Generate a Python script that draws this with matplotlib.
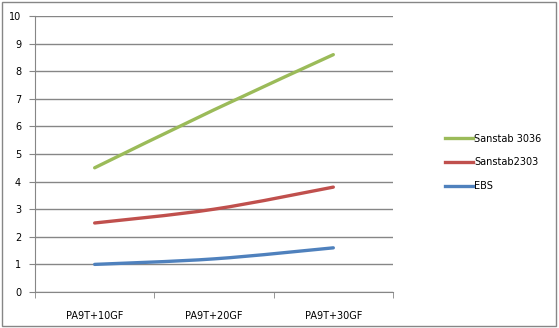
import matplotlib.pyplot as plt
from matplotlib.path import Path
from matplotlib.patches import PathPatch, Rectangle
from matplotlib.lines import Line2D

# Data
categories = ['PA9T+10GF', 'PA9T+20GF', 'PA9T+30GF']
sanstab_3036 = [4.5, 6.6, 8.6]
sanstab_2303 = [2.5, 3.0, 3.8]
ebs = [1.0, 1.2, 1.6]

series = [('Sanstab 3036', sanstab_3036, '#9BBB59'),
          ('Sanstab2303', sanstab_2303, '#C0504D'),
          ('EBS', ebs, '#4F81BD')]

grid_col = '#868686'

fig = plt.figure(figsize=(5.59, 3.28), dpi=100)
ax = fig.add_axes([0.0626, 0.1098, 0.6404, 0.8414])


def smooth_path(xs, ys):
    # Bezier curve through the points, like Excel's smoothed line
    pts = list(zip(xs, ys))
    ext = [pts[0]] + pts + [pts[-1]]
    verts = [pts[0]]
    codes = [Path.MOVETO]
    for i in range(len(pts) - 1):
        p0, p1, p2, p3 = ext[i], ext[i + 1], ext[i + 2], ext[i + 3]
        c1 = (p1[0] + (p2[0] - p0[0]) / 6, p1[1] + (p2[1] - p0[1]) / 6)
        c2 = (p2[0] - (p3[0] - p1[0]) / 6, p2[1] - (p3[1] - p1[1]) / 6)
        verts += [c1, c2, p2]
        codes += [Path.CURVE4] * 3
    return Path(verts, codes)


handles = []
for name, vals, col in series:
    x = range(len(vals))
    patch = PathPatch(smooth_path(x, vals), facecolor='none', edgecolor=col,
                      lw=2.4, capstyle='round', zorder=3)
    ax.add_patch(patch)
    handles.append(Line2D([], [], color=col, lw=2.4, label=name))

ax.set_xlim(-0.5, 2.5)
ax.set_ylim(0, 10)
ax.set_yticks(range(0, 11))
ax.set_xticks(range(len(categories)))
ax.set_xticklabels(categories)
ax.set_xticks([-0.5, 0.5, 1.5, 2.5], minor=True)
ax.tick_params(axis='x', which='major', length=0, pad=14, labelsize=7)
ax.tick_params(axis='x', which='minor', length=4, color=grid_col)
ax.tick_params(axis='y', length=4, color=grid_col, labelsize=7, pad=6)
ax.yaxis.grid(True, color=grid_col, lw=1)
ax.set_axisbelow(True)
for s in ['top', 'right']:
    ax.spines[s].set_visible(False)
for s in ['left', 'bottom']:
    ax.spines[s].set_color(grid_col)

fig.legend(handles=handles, loc='center left', bbox_to_anchor=(0.78, 0.505),
           frameon=False, fontsize=7, handlelength=2.9, handletextpad=0.1,
           labelspacing=1.4)

fig.patches.append(Rectangle((0.004, 0.006), 0.99, 0.988, transform=fig.transFigure,
                             fill=False, edgecolor=grid_col, lw=1))

fig.savefig('out.png', dpi=100)
